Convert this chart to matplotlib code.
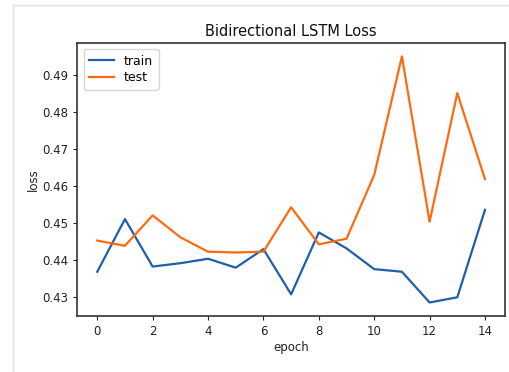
import matplotlib
matplotlib.use("Agg")
import matplotlib.pyplot as plt
from matplotlib.lines import Line2D

epochs = list(range(15))
train_loss = [0.4369, 0.4511, 0.4383, 0.4392, 0.4404, 0.4380, 0.4430, 0.4308,
              0.4475, 0.4432, 0.4376, 0.4369, 0.4286, 0.4300, 0.4536]
test_loss = [0.4453, 0.4439, 0.4521, 0.4462, 0.4423, 0.4421, 0.4423, 0.4543,
             0.4443, 0.4458, 0.4630, 0.4950, 0.4504, 0.4851, 0.4619]
xticks = [0, 2, 4, 6, 8, 10, 12, 14]
yticks = [0.43, 0.44, 0.45, 0.46, 0.47, 0.48, 0.49]

fig = plt.figure(figsize=(5.09, 3.72), dpi=100)
ax = fig.add_axes([0.1519, 0.1505, 0.8401, 0.7347])

ax.plot(epochs, train_loss, color="#1f5fa8", lw=1.6, label="train")
ax.plot(epochs, test_loss, color="#ff6a10", lw=1.6, label="test")

ax.set_xlim(-0.72, 14.72)
ax.set_ylim(0.42495, 0.4987)
ax.set_xticks(xticks)
ax.set_yticks(yticks)
ax.set_yticklabels([f"{v:.2f}" for v in yticks])
ax.tick_params(labelsize=8.5, length=3, colors="#222222")
ax.set_xlabel("epoch", fontsize=8.5, labelpad=2, color="#222222")
ax.set_ylabel("loss", fontsize=8.5, labelpad=2, color="#222222")
ax.set_title("Bidirectional LSTM Loss", fontsize=10.5, pad=5, color="#111111")
for s in ax.spines.values():
    s.set_linewidth(1.2)
    s.set_color("#333333")
ax.legend(loc="upper left", fontsize=9, handlelength=2.0, borderpad=0.45,
          labelspacing=0.3)

# light screenshot frame
fig.add_artist(Line2D([13 / 509, 13 / 509], [0, 1 - 5 / 372], transform=fig.transFigure,
                      color="#e0e0e0", lw=1))
fig.add_artist(Line2D([13 / 509, 1], [1 - 5 / 372, 1 - 5 / 372], transform=fig.transFigure,
                      color="#e0e0e0", lw=1))

fig.savefig("out.png", dpi=100)
